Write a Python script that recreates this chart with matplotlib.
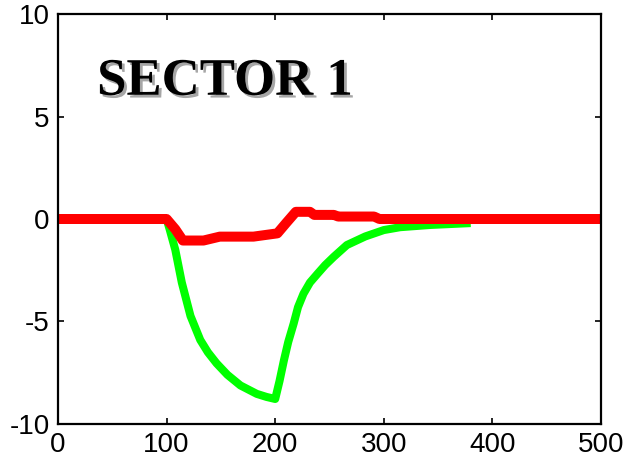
import matplotlib
matplotlib.use('Agg')
import matplotlib.pyplot as plt
import matplotlib.patheffects as pe

# green curve
green_x = [0, 100, 103, 108, 114, 122, 131, 138, 146, 156, 168, 183, 192, 200, 204, 208, 212, 217, 221, 226, 232, 239, 246, 254, 266, 283, 300, 315, 343, 380]
green_y = [0, 0, -0.54, -1.5, -3.1, -4.73, -5.9, -6.5, -7.04, -7.6, -8.12, -8.53, -8.68, -8.78, -7.9, -6.9, -6.0, -5.1, -4.3, -3.65, -3.1, -2.67, -2.25, -1.84, -1.27, -0.85, -0.54, -0.4, -0.29, -0.2]

# red curve
red_x = [0, 100, 108, 115, 134, 149, 180, 202, 210, 219, 232, 236, 254, 258, 291, 296, 500]
red_y = [0, 0, -0.5, -1.05, -1.05, -0.86, -0.86, -0.7, -0.2, 0.35, 0.35, 0.2, 0.2, 0.12, 0.12, 0, 0]

plt.rcParams['font.family'] = ['Liberation Sans', 'DejaVu Sans']
plt.rcParams['axes.unicode_minus'] = False

fig = plt.figure(figsize=(6.29, 4.67), dpi=100)
ax = fig.add_axes([0.0922, 0.0921, 0.8633, 0.8779])

ax.plot(green_x, green_y, color='#00ff00', linewidth=5.8, solid_capstyle='butt')
ax.plot(red_x, red_y, color='#ff0000', linewidth=7.2, solid_capstyle='butt')

ax.set_xlim(0, 500)
ax.set_ylim(-10, 10)
ax.set_xticks([0, 100, 200, 300, 400, 500])
ax.set_yticks([-10, -5, 0, 5, 10])
ax.tick_params(direction='in', length=4, width=1.2, top=True, right=True, labelsize=20, pad=6)
for s in ax.spines.values():
    s.set_linewidth(1.6)

ax.text(36, 6.06, 'SECTOR 1', fontsize=38, fontweight='bold', family='Liberation Serif',
        path_effects=[pe.withSimplePatchShadow(offset=(2, -2), shadow_rgbFace='gray', alpha=0.7)])

fig.savefig('out.png', dpi=100)
